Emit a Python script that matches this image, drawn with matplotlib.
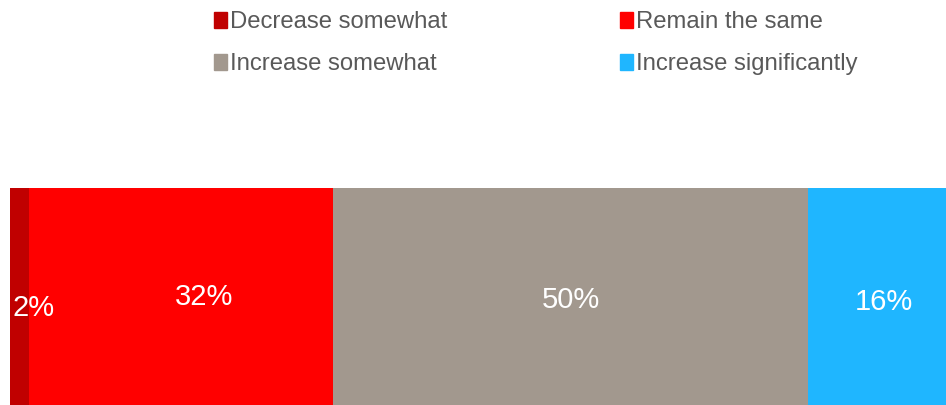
# plot.py
import matplotlib.pyplot as plt
from matplotlib.patches import Patch

plt.rcParams['font.family'] = ['Liberation Sans', 'DejaVu Sans']

categories = ['Decrease somewhat', 'Remain the same', 'Increase somewhat', 'Increase significantly']
values = [2, 32, 50, 16]
labels = ['2%', '32%', '50%', '16%']
colors = ['#C00000', '#FF0000', '#A2988E', '#1FB6FF']
# label nudges in pixels (the reference moves the two small ones aside)
nudges = [(14, -8), (23, 3), (0, 0), (0, -2)]

fig = plt.figure(figsize=(9.46, 4.05), dpi=100)
ax = fig.add_axes([10 / 946, 0, 936 / 946, 217 / 405])

left = 0
for cat, val, lab, col, (dx, dy) in zip(categories, values, labels, colors, nudges):
    ax.barh(0, val, left=left, height=1, color=col, label=cat)
    ax.annotate(lab, (left + val / 2, 0), xytext=(dx, dy), textcoords='offset pixels',
                ha='center', va='center', color='white', fontsize=21)
    left += val

ax.set_xlim(0, 98.5)
ax.set_ylim(-0.469, 0.5)
ax.axis('off')

handles = [Patch(color=c) for c in colors]
order = [0, 2, 1, 3]
fig.legend([handles[i] for i in order], [categories[i] for i in order],
           ncol=2, loc='upper left', bbox_to_anchor=(200 / 946, 1.0 + 3 / 405),
           frameon=False, fontsize=17.2, labelcolor='#595959',
           handlelength=0.55, handleheight=0.65, handletextpad=0.12,
           columnspacing=7.2, labelspacing=0.82, borderaxespad=0.2)

fig.savefig('out.png', dpi=100)
